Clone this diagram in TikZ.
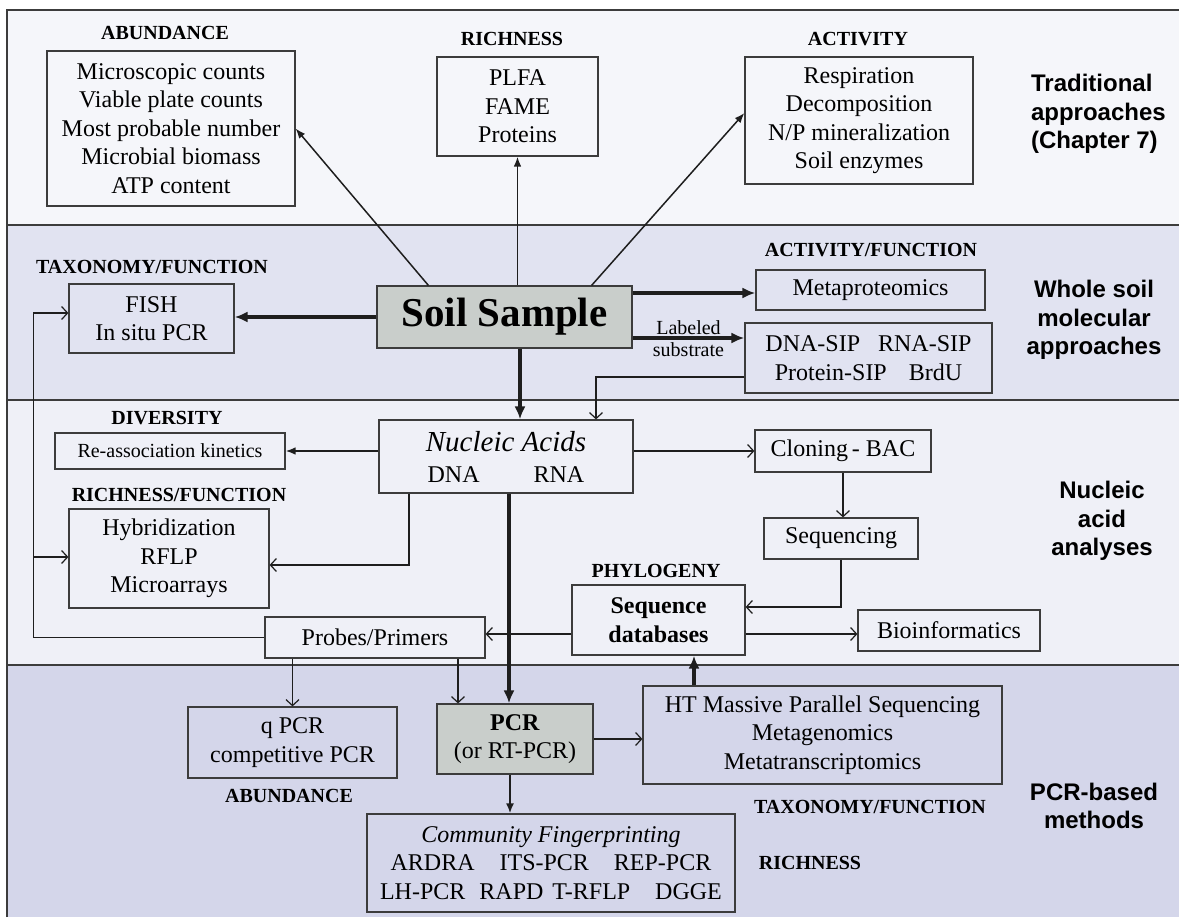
\documentclass[tikz,border=0pt]{standalone}
\usepackage{fontspec}
\setmainfont{Liberation Serif}
\newfontfamily\sidefont{Liberation Sans}
\usetikzlibrary{calc,arrows.meta}
\definecolor{bandA}{HTML}{F5F6FA}
\definecolor{bandB}{HTML}{E1E3F1}
\definecolor{bandC}{HTML}{EFF0F7}
\definecolor{bandD}{HTML}{D4D6EA}
\definecolor{soilgrey}{HTML}{C9CECB}
\definecolor{boxline}{HTML}{3C3C3C}
\definecolor{arrowline}{HTML}{1E1E1E}

\begin{document}
\begin{tikzpicture}[x=0.5pt,y=-0.5pt,
    box/.style={draw=boxline, line width=0.6pt, align=center, inner sep=2pt, font=\fontsize{12}{14.2}\selectfont},
    soilbox/.style={box, fill=soilgrey},
    tag/.style={font=\fontsize{10}{12}\selectfont\bfseries},
    side/.style={font=\sidefont\bfseries\fontsize{12}{14.2}\selectfont, align=center},
    fine/.style={draw=arrowline, line width=0.75pt, -{Latex[length=5pt,width=3.8pt]}},
    fat/.style={draw=arrowline, line width=1.6pt, -{Latex[length=6.5pt,width=5.5pt]}},
    barb/.style={draw=arrowline, line width=0.6pt, -{Straight Barb[length=3pt,width=6.5pt,line width=0.6pt]}},
    midbarb/.style={draw=arrowline, line width=1.1pt, -{Straight Barb[length=3pt,width=6.5pt,line width=0.6pt]}},
    midfill/.style={draw=arrowline, line width=1.1pt, -{Latex[length=5pt,width=4pt]}}]
    \useasboundingbox (0,0) rectangle (1179,917);
    % bands
    \fill[white] (0,0) rectangle (1179,917);
    \fill[bandA] (7,10) rectangle (1179,225);
    \fill[bandB] (7,225) rectangle (1179,400);
    \fill[bandC] (7,400) rectangle (1179,665);
    \fill[bandD] (7,665) rectangle (1179,917);
    \draw[boxline, line width=1pt] (7,917) -- (7,10) -- (1179,10);
    \foreach \y in {225,400,665} \draw[boxline, line width=1pt] (7,\y) -- (1179,\y);

    % traditional approaches
    \node[box, minimum width=124pt, minimum height=77.5pt] at (171,128.5) (AB) {Microscopic counts\\Viable plate counts\\Most probable number\\Microbial biomass\\ATP content};
    \node[box, minimum width=80.5pt, minimum height=49.5pt] at (517.5,106.5) (RI) {PLFA\\FAME\\Proteins};
    \node[box, minimum width=114pt, minimum height=63.5pt] at (859,120.5) (AC) {Respiration\\Decomposition\\N/P mineralization\\Soil enzymes};

    % whole soil
    \node[box, minimum width=82.5pt, minimum height=34.5pt] at (151.5,318.5) (FI) {FISH\\In situ PCR};
    \node[soilbox, minimum width=127.5pt, minimum height=31pt, font=\fontsize{20.5}{24}\selectfont\bfseries] at (504.5,317) (SS) {Soil Sample};
    \node[box, minimum width=114.5pt, minimum height=20pt] at (870.5,290) (MP) {Metaproteomics};
    \node[box, minimum width=123.5pt, minimum height=35pt] at (868.5,358) (SIP) {DNA-SIP\hspace{9pt}RNA-SIP\\Protein-SIP\hspace{11pt}BrdU};

    % nucleic acids
    \node[box, minimum width=115pt, minimum height=18pt, font=\fontsize{10}{12}\selectfont] at (170,451) (RA) {Re-association kinetics};
    \node[box, minimum width=127pt, minimum height=36.5pt] at (506,456.5) (NA) {{\fontsize{14.5}{15}\selectfont\itshape Nucleic Acids}\\[1.3pt]DNA\hspace{27pt}RNA};
    \node[box, minimum width=88pt, minimum height=21pt] at (843,451) (CL) {Cloning\,- BAC};
    \node[box, minimum width=77pt, minimum height=20.5pt] at (841,538.5) (SQ) {Sequencing};
    \node[box, minimum width=100pt, minimum height=49.5pt] at (169,558.5) (HY) {Hybridization\\RFLP\\Microarrays};
    \node[box, minimum width=86.5pt, minimum height=35pt, font=\fontsize{12}{14.2}\selectfont\bfseries] at (658.5,620) (DB) {Sequence\\databases};
    \node[box, minimum width=110pt, minimum height=20.5pt] at (375,637.5) (PP) {Probes/Primers};
    \node[box, minimum width=91pt, minimum height=20.5pt] at (949,630.5) (BI) {Bioinformatics};

    % PCR based
    \node[box, minimum width=104.5pt, minimum height=35.5pt] at (292.5,742.5) (QP) {q PCR\\competitive PCR};
    \node[soilbox, minimum width=78pt, minimum height=35pt] at (515,739) (PCR) {\textbf{PCR}\\(or RT-PCR)};
    \node[box, minimum width=179.5pt, minimum height=49pt] at (822.5,735) (HT) {HT Massive Parallel Sequencing\\Metagenomics\\Metatranscriptomics};
    \node[box, minimum width=184pt, minimum height=49pt] at (551,863) (CF) {\textit{Community Fingerprinting}\\ARDRA\hspace{12.5pt}ITS-PCR\hspace{12.5pt}REP-PCR\\LH-PCR\hspace{7pt}RAPD\hspace{4.5pt}T-RFLP\hspace{12.5pt}DGGE};

    % category tags
    \node[tag] at (165,33) (tAB) {ABUNDANCE};
    \node[tag] at (512,39) (tRI) {RICHNESS};
    \node[tag] at (858,39) (tAC) {ACTIVITY};
    \node[tag] at (152,267) (tFI) {TAXONOMY/FUNCTION};
    \node[tag] at (871,250) (tMP) {ACTIVITY/FUNCTION};
    \node[tag] at (167,418) (tRA) {DIVERSITY};
    \node[tag] at (179,495) (tHY) {RICHNESS/FUNCTION};
    \node[tag] at (656,571) (tDB) {PHYLOGENY};
    \node[tag] at (289,796) (tQP) {ABUNDANCE};
    \node[tag] at (870,807) (tHT) {TAXONOMY/FUNCTION};
    \node[tag] at (810,863) (tCF) {RICHNESS};

    % approach names
    \node[side, align=left, anchor=west] at (1024,114) (trad) {Traditional\\approaches\\(Chapter 7)};
    \node[side] at (1094,320) (whole) {Whole soil\\molecular\\approaches};
    \node[side] at (1102,521) (nucl) {Nucleic\\acid\\analyses};
    \node[side] at (1094,806) (pcrb) {PCR-based\\methods};

    % connectors
    \draw[fine] ($(SS.north west)+(52,0)$) -- (AB.east);
    \draw[fine] (SS.north -| RI.south) -- (RI.south);
    \draw[fine] ($(SS.north east)+(-41,0)$) -- ($(AC.west)+(0,-7.5)$);
    \draw[fat] (SS.west) -- (SS.west -| FI.east);
    \draw[fat] ($(SS.east)+(0,-24)$) -- ($(MP.west)+(0,3)$);
    \draw[fat] ($(SS.east)+(0,21)$) -- ($(SIP.west)+(0,-20)$)
        node[midway, above, inner sep=1pt, font=\fontsize{10}{12}\selectfont] {Labeled}
        node[midway, below, inner sep=1.5pt, font=\fontsize{10}{12}\selectfont] {substrate};
    \draw[midbarb] ($(SIP.west)+(0,19)$) -| ($(NA.north)+(90,0)$);
    \draw[fat] ($(SS.south)+(15.5,0)$) -- ($(NA.north)+(14,0)$);
    \draw[fine] (NA.west |- RA.east) -- (RA.east);
    \draw[barb] (CL.west -| NA.east) -- (CL.west);
    \draw[midbarb] (CL.south) -- (CL.south |- SQ.north);
    \draw[midbarb] (SQ.south) |- ($(DB.east)+(0,-13)$);
    \draw[midbarb] ($(NA.south)+(-97,0)$) |- ($(HY.east)+(0,6.5)$);
    \draw[fat] ($(NA.south)+(3,0)$) -- ($(PCR.north)+(-6,0)$);
    \draw[barb] ($(DB.west)+(0,14)$) -- ($(PP.east)+(0,-3.5)$);
    \draw[barb] ($(DB.east)+(0,14)$) -- ($(BI.west)+(0,3.5)$);
    \draw[barb] (PP.west) -| ($(FI.west)+(-35,-5.5)$) -- ($(FI.west)+(0,-5.5)$);
    \draw[midbarb] ($(HY.west)+(-35,-1.5)$) -- ($(HY.west)+(0,-1.5)$);
    \draw[barb] (PP.south -| QP.north) -- (QP.north);
    \draw[barb] ($(PP.south)+(83,0)$) -- ($(PCR.north)+(-57,0)$);
    \draw[midbarb] (PCR.east) -- (PCR.east -| HT.west);
    \draw[fat] ($(HT.north)+(-128.5,0)$) -- ($(DB.south)+(35.5,0)$);
    \draw[midfill] ($(PCR.south)+(-5,0)$) -- ($(CF.north)+(-41,0)$);
\end{tikzpicture}
\end{document}
